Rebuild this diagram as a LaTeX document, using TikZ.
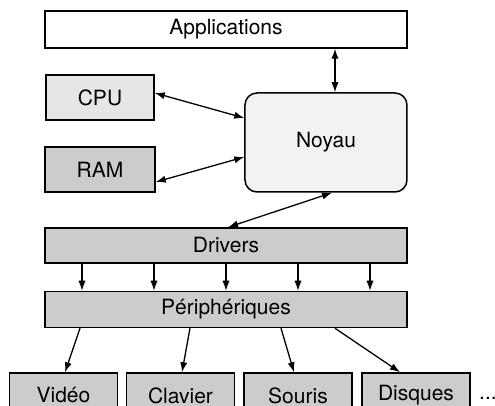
\documentclass[tikz,border=0pt]{standalone}
\usepackage{fontspec}
\setmainfont{TeX Gyre Heros}
\usepackage{xcolor}
\usepackage{tikz}
\usetikzlibrary{arrows.meta,shapes,positioning,calc}

\definecolor{lightgrey}{HTML}{E6E6E6}
\definecolor{midgrey}{HTML}{CCCCCC}
\definecolor{palegrey}{HTML}{F2F2F2}

\begin{document}
\begin{tikzpicture}[
    node distance=36pt,
    >={Latex[length=5pt,width=3.6pt]},
    box/.style={rectangle, draw, line width=0.75pt, inner sep=0pt, font=\fontsize{10.5}{12.6}\selectfont},
    wide/.style={box, minimum width=181pt, minimum height=18pt},
    small/.style={box, minimum width=54pt, minimum height=22.5pt},
    arrow/.style={->, line width=0.65pt}
]
    \useasboundingbox (0,0) rectangle (247.5pt,-203pt);

    \node[wide, fill=white, minimum height=18.5pt] (apps) at (113pt,-14.75pt) {Applications};
    \node[small, fill=lightgrey, below of=apps, xshift=-63pt, yshift=2pt] (cpu) {CPU};
    \node[small, fill=midgrey, below of=cpu, minimum width=55pt] (ram) {RAM};
    \node[box, fill=palegrey, rounded corners=6pt, minimum width=81pt, minimum height=49.5pt,
          below of=apps, xshift=50pt, yshift=-20.5pt] (noyau) {Noyau};

    \node[wide, fill=midgrey, minimum height=17.5pt, below of=ram, xshift=63pt, yshift=-2pt] (drivers) {Drivers};
    \node[wide, fill=midgrey, below of=drivers, yshift=4pt] (periph) {Périphériques};

    \node[small, fill=midgrey, below of=periph, xshift=-81.25pt, yshift=-7pt] (video) {Vidéo};
    \node[small, fill=midgrey, right of=video, xshift=22.5pt] (clavier) {Clavier};
    \node[small, fill=midgrey, right of=clavier, xshift=22.75pt] (souris) {Souris};
    \node[small, fill=midgrey, right of=souris, xshift=23pt] (disques) {Disques};
    \node[font=\fontsize{10.5}{12.6}\selectfont, inner sep=0pt, right of=disques, yshift=-1.25pt] (dots) {...};

    \draw[<->, line width=0.65pt] ([xshift=4.5pt]noyau.north) -- ([xshift=4.5pt]noyau.north |- apps.south);
    \draw[<->, line width=0.65pt] ([yshift=2.25pt]cpu.east) -- ([yshift=12.25pt]noyau.west);
    \draw[<->, line width=0.65pt] ([yshift=-6.25pt]ram.east) -- ([yshift=-7.25pt]noyau.west);
    \draw[<->, line width=0.65pt] ([xshift=3pt]noyau.south) -- ([xshift=1pt]drivers.north);

    \foreach \dx in {-72,-36,0,36,72}
        \draw[arrow] ([xshift=\dx pt]drivers.south) -- ([xshift=\dx pt]periph.north);

    \draw[arrow] ([xshift=-73pt]periph.south) -- ([xshift=0.75pt]video.north);
    \draw[arrow] ([xshift=-18pt]periph.south) -- ([xshift=0.75pt]clavier.north);
    \draw[arrow] ([xshift=27.5pt]periph.south) -- ([xshift=-2pt]souris.north);
    \draw[arrow] ([xshift=54.5pt]periph.south) -- ([xshift=-8pt]disques.north);
\end{tikzpicture}
\end{document}
